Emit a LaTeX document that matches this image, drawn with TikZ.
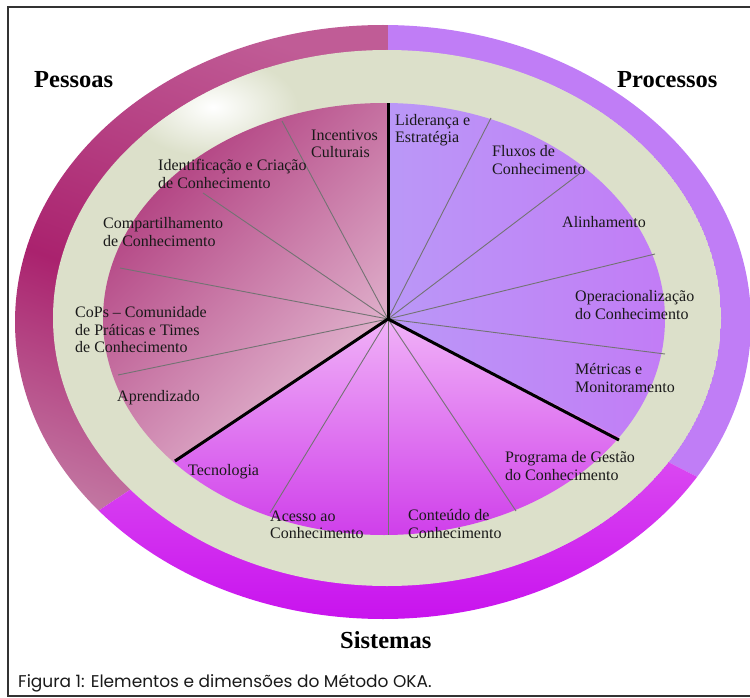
\documentclass[tikz,border=0pt]{standalone}
\usepackage{fontspec}
\setmainfont{Liberation Serif}
\newfontfamily\captionfont{Poppins}
\definecolor{framegray}{HTML}{333333}
\definecolor{ringlight}{HTML}{DCE0CA}
\definecolor{pessoastop}{HTML}{C05C96}
\definecolor{pessoasmid}{HTML}{AA226E}
\definecolor{pessoaslow}{HTML}{C98EB0}
\definecolor{processosring}{HTML}{C07DF6}
\definecolor{sistemastop}{HTML}{E15CF2}
\definecolor{sistemaslow}{HTML}{C812EE}
\definecolor{pessoasdark}{HTML}{AE387B}
\definecolor{pessoaspale}{HTML}{E6C0D6}
\definecolor{processosleft}{HTML}{BA98F7}
\definecolor{processosright}{HTML}{C27CF6}
\definecolor{sistemaspale}{HTML}{F1B4F8}
\definecolor{sistemasdeep}{HTML}{CF3EEA}
\tikzset{
  spoke/.style={draw=black!55, line width=0.9pt},
  divider/.style={draw=black, line width=3pt},
  element/.style={anchor=west, align=left, inner sep=0pt, text=black!90,
    font=\fontsize{16}{17.5}\selectfont},
  dimension/.style={anchor=base west, inner sep=0pt,
    font=\bfseries\fontsize{24.5}{28}\selectfont}
}
\begin{document}
\begin{tikzpicture}[x=1pt, y=-1pt]
    \useasboundingbox (0,0) rectangle (750,698);
    \coordinate (center) at (388,319);
    % outer ring
    \begin{scope}
        \clip (383,322) ellipse [x radius=368pt, y radius=297pt];
        \begin{scope}
            \clip (center) -- (388,-10) -- (-50,-10) -- (-44,605) -- cycle;
            \shade[top color=pessoastop, bottom color=pessoaslow, middle color=pessoasmid, shading angle=-20] (0,0) rectangle (390,620);
        \end{scope}
        \begin{scope}
            \clip (center) -- (388,-10) -- (820,-10) -- (817,538) -- cycle;
            \fill[processosring] (380,0) rectangle (760,560);
        \end{scope}
        \begin{scope}
            \clip (center) -- (817,538) -- (817,720) -- (-44,720) -- (-44,605) -- cycle;
            \shade[top color=sistemastop, bottom color=sistemaslow] (0,400) rectangle (760,622);
        \end{scope}
    \end{scope}
    % light ring
    \begin{scope}
        \clip (387,318) ellipse [x radius=334pt, y radius=268pt];
        \fill[ringlight] (387,318) ellipse [x radius=334pt, y radius=268pt];
        \shade[inner color=white, outer color=ringlight] (213,107) ellipse [x radius=85pt, y radius=50pt];
    \end{scope}
    % inner sectors
    \begin{scope}
        \clip (384,319) ellipse [x radius=281pt, y radius=216pt];
        \begin{scope}
            \clip (center) -- (388,-10) -- (-50,-10) -- (-44,605) -- cycle;
            \shade[top color=pessoasdark, bottom color=pessoaspale, shading angle=45] (100,100) rectangle (392,470);
        \end{scope}
        \begin{scope}
            \clip (center) -- (388,-10) -- (820,-10) -- (817,538) -- cycle;
            \shade[left color=processosleft, right color=processosright] (386,100) rectangle (668,450);
        \end{scope}
        \begin{scope}
            \clip (center) -- (817,538) -- (817,720) -- (-44,720) -- (-44,605) -- cycle;
            \shade[top color=sistemaspale, bottom color=sistemasdeep] (170,315) rectangle (625,537);
        \end{scope}
    \end{scope}
    % spokes
    \draw[spoke] (center) -- (282,121);
    \draw[spoke] (center) -- (203,193);
    \draw[spoke] (center) -- (120,268);
    \draw[spoke] (center) -- (118,375);
    \draw[spoke] (center) -- (491,118);
    \draw[spoke] (center) -- (579,174);
    \draw[spoke] (center) -- (655,254);
    \draw[spoke] (center) -- (665,354);
    \draw[spoke] (center) -- (270,513);
    \draw[spoke] (center) -- (388,535);
    \draw[spoke] (center) -- (516,511);
    \draw[divider] (center) -- (388,103);
    \draw[divider] (center) -- (175,461);
    \draw[divider] (center) -- (619,440);
    % elements
    \node[element] (incentivos) at (311,144) {Incentivos\\Culturais};
    \node[element] (identificacao) at (158,174) {Identificação e Criação\\de Conhecimento};
    \node[element] (compartilhamento) at (103,232) {Compartilhamento\\de Conhecimento};
    \node[element] (cops) at (75,330) {CoPs -- Comunidade\\de Práticas e Times\\de Conhecimento};
    \node[element] (aprendizado) at (117,398) {Aprendizado};
    \node[element] (lideranca) at (395,130) {Liderança e\\Estratégia};
    \node[element] (fluxos) at (492,160) {Fluxos de\\Conhecimento};
    \node[element] (alinhamento) at (562,222) {Alinhamento};
    \node[element] (operacionalizacao) at (575,305) {Operacionalização\\do Conhecimento};
    \node[element] (metricas) at (575,378) {Métricas e\\Monitoramento};
    \node[element] (programa) at (505,466) {Programa de Gestão\\do Conhecimento};
    \node[element] (conteudo) at (408,524) {Conteúdo de\\Conhecimento};
    \node[element] (acesso) at (270,525) {Acesso ao\\Conhecimento};
    \node[element] (tecnologia) at (188,472) {Tecnologia};
    % dimensions
    \node[dimension] (pessoas) at (34,88) {Pessoas};
    \node[dimension] (processos) at (617,88) {Processos};
    \node[dimension] (sistemas) at (340,648) {Sistemas};
    % frame and caption
    \draw[framegray, line width=2pt] (760,7) -- (8,7) -- (8,696) -- (760,696);
    \node[anchor=base west, inner sep=0pt, font=\captionfont\fontsize{17}{20}\selectfont, text=black!90] (legenda) at (18,687) {Figura 1: Elementos e dimensões do Método OKA.};
\end{tikzpicture}
\end{document}
